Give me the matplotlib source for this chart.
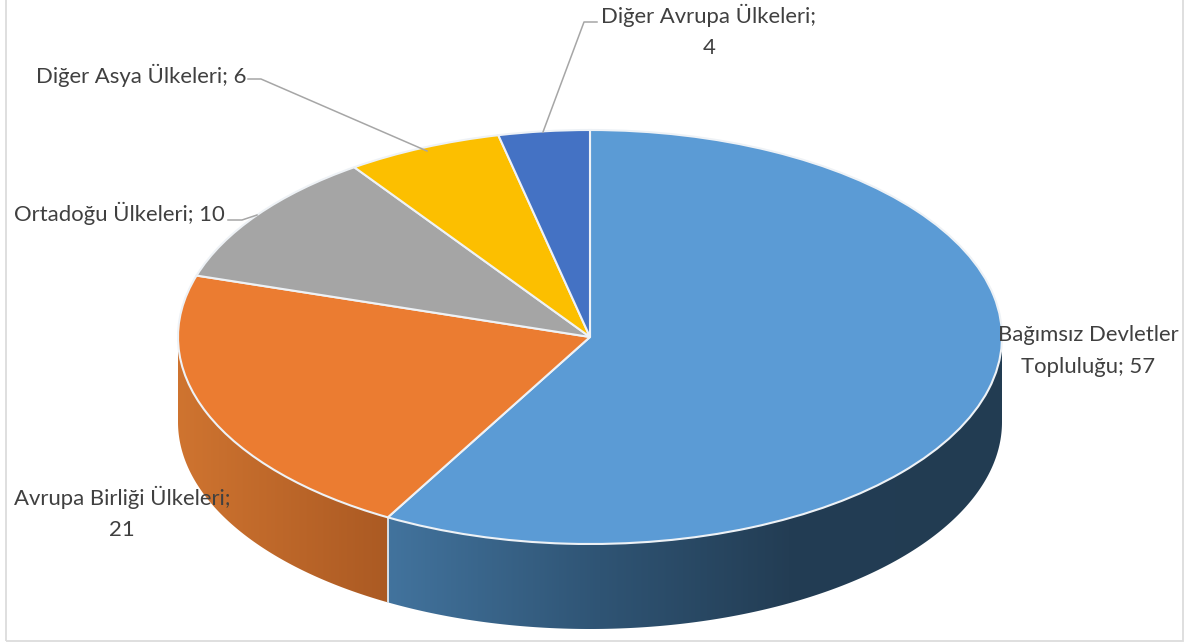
import numpy as np
import matplotlib
matplotlib.use("Agg")
import matplotlib.pyplot as plt
from matplotlib.colors import LinearSegmentedColormap
from matplotlib.patches import Polygon, Rectangle

categories = ["Bağımsız Devletler Topluluğu", "Avrupa Birliği Ülkeleri", "Ortadoğu Ülkeleri",
              "Diğer Asya Ülkeleri", "Diğer Avrupa Ülkeleri"]
values = [57.0, 21.2, 10.3, 6.0, 3.5]
colors = ["#5B9BD5", "#EB7C31", "#A5A5A5", "#FCBF00", "#4472C4"]
wall_stops = {
    0: [(389, "#42739D"), (600, "#2F5474"), (790, "#233D54"), (1002, "#223C52")],
    1: [(178, "#CF7430"), (388, "#AB5A23")],
}
label_text = ["Bağımsız Devletler\nTopluluğu; 57", "Avrupa Birliği Ülkeleri;\n21",
              "Ortadoğu Ülkeleri; 10", "Diğer Asya Ülkeleri; 6", "Diğer Avrupa Ülkeleri;\n4"]
label_pos = [(1088, 351), (122, 513), (119, 213), (141, 75), (709, 31)]
leaders = {2: [(228, 220), (242, 220), (257, 215)],
           3: [(248, 79), (261, 79), (427, 151)],
           4: [(597, 22), (584, 22), (543, 132)]}

W, H = 1186, 642
CX, CY, RX, RY, DEPTH = 590, 337, 412, 207, 85

fig = plt.figure(figsize=(W / 100, H / 100), dpi=100, facecolor="white")
ax = fig.add_axes([0, 0, 1, 1])


def X(px):
    return (px - CX) / RX


def Y(py):
    return (CY - py) / RY


def fx(px, py):
    return px / W, 1 - py / H


ax.pie(values, colors=colors, startangle=90, counterclock=False, radius=1,
       wedgeprops=dict(edgecolor="#EEF2F6", linewidth=1.5, zorder=5))

# side wall
edges = 90 - np.concatenate([[0], np.cumsum(values)]) / np.sum(values) * 360
d = DEPTH / RY
for i in range(len(values)):
    hi, lo = min(edges[i], 0), max(edges[i + 1], -180)
    if hi <= lo:
        continue
    t = np.radians(np.linspace(hi, lo, 200))
    x, y = np.cos(t), np.sin(t)
    verts = np.column_stack([np.r_[x, x[::-1]], np.r_[y, y[::-1] - d]])
    poly = Polygon(verts, closed=True, facecolor="none", edgecolor="none", transform=ax.transData)
    ax.add_patch(poly)
    stops = wall_stops.get(i)
    if stops is None:
        continue
    p0, p1 = stops[0][0], stops[-1][0]
    cmap = LinearSegmentedColormap.from_list(
        f"w{i}", [((p - p0) / (p1 - p0), c) for p, c in stops])
    im = ax.imshow(np.linspace(0, 1, 512)[None, :], cmap=cmap, aspect="auto", zorder=2,
                   extent=(X(p0), X(p1), Y(CY + RY + DEPTH + 5), Y(CY - 5)), interpolation="bilinear")
    im.set_clip_path(poly)

# seam between the two visible wall faces
seam = np.radians(edges[1])
ax.plot([np.cos(seam)] * 2, [np.sin(seam), np.sin(seam) - d], color="#D5DEE6", lw=1.4, zorder=3)

ax.set_aspect("auto")
ax.set_xlim(X(0), X(W))
ax.set_ylim(Y(H), Y(0))
ax.axis("off")

# leader lines
for pts in leaders.values():
    ax.plot([X(p[0]) for p in pts], [Y(p[1]) for p in pts], color="#A6A6A6", lw=1.1, zorder=6,
            solid_joinstyle="round")

# labels
for txt, (px, py) in zip(label_text, label_pos):
    fig.text(*fx(px, py), txt, ha="center", va="center", ma="center", color="#404040",
             family=["Lato", "DejaVu Sans"], fontsize=15.9, linespacing=1.72, zorder=8)

# frame
fig.add_artist(Rectangle(fx(6, 640.5), (1183 - 6) / W, 650 / H, transform=fig.transFigure,
                         facecolor="none", edgecolor="#DCDCDC", lw=1.3))

fig.savefig("out.png", dpi=100, facecolor="white")
